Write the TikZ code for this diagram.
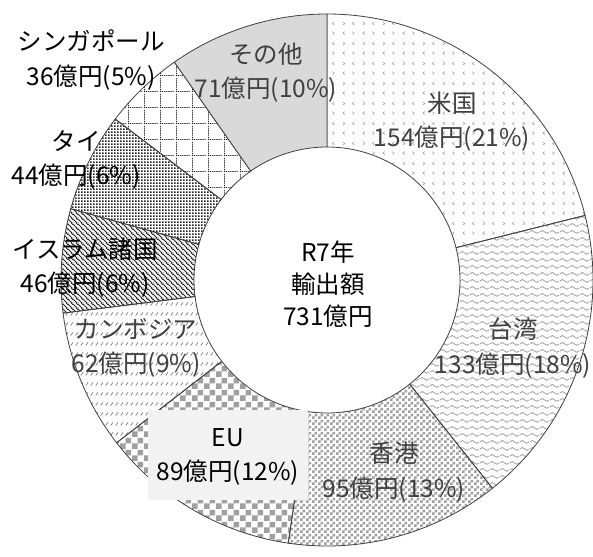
\documentclass[tikz,border=0pt]{standalone}
\usepackage{fontspec}
\setmainfont{Noto Sans CJK JP}
\usetikzlibrary{patterns,calc}
\pgfdeclarepatternformonly{chevmarks}{\pgfpointorigin}{\pgfpoint{20pt}{20pt}}{\pgfpoint{20pt}{20pt}}{
  \pgfsetlinewidth{0.6pt}
  \pgfpathmoveto{\pgfpoint{5pt}{1.5pt}}\pgfpathlineto{\pgfpoint{3pt}{3pt}}\pgfpathlineto{\pgfpoint{5pt}{4.5pt}}
  \pgfpathmoveto{\pgfpoint{13pt}{1.5pt}}\pgfpathlineto{\pgfpoint{15pt}{3pt}}\pgfpathlineto{\pgfpoint{13pt}{4.5pt}}
  \pgfpathmoveto{\pgfpoint{3pt}{11.5pt}}\pgfpathlineto{\pgfpoint{5pt}{13pt}}\pgfpathlineto{\pgfpoint{3pt}{14.5pt}}
  \pgfpathmoveto{\pgfpoint{15pt}{11.5pt}}\pgfpathlineto{\pgfpoint{13pt}{13pt}}\pgfpathlineto{\pgfpoint{15pt}{14.5pt}}
  \pgfusepath{stroke}}
\pgfdeclarepatternformonly{wavelines}{\pgfpoint{0pt}{0pt}}{\pgfpoint{10pt}{7pt}}{\pgfpoint{10pt}{7pt}}{
  \pgfsetlinewidth{0.9pt}
  \pgfpathmoveto{\pgfpoint{0pt}{3.5pt}}
  \pgfpathsine{\pgfpoint{2.5pt}{1.6pt}}
  \pgfpathcosine{\pgfpoint{2.5pt}{-1.6pt}}
  \pgfpathsine{\pgfpoint{2.5pt}{-1.6pt}}
  \pgfpathcosine{\pgfpoint{2.5pt}{1.6pt}}
  \pgfusepath{stroke}}
\pgfdeclarepatternformonly{checksmall}{\pgfpointorigin}{\pgfpoint{6pt}{6pt}}{\pgfpoint{6pt}{6pt}}{
  \pgfpathrectangle{\pgfpointorigin}{\pgfpoint{3pt}{3pt}}
  \pgfpathrectangle{\pgfpoint{3pt}{3pt}}{\pgfpoint{3pt}{3pt}}
  \pgfusepath{fill}}
\pgfdeclarepatternformonly{checkbig}{\pgfpointorigin}{\pgfpoint{12pt}{12pt}}{\pgfpoint{12pt}{12pt}}{
  \pgfpathrectangle{\pgfpointorigin}{\pgfpoint{6pt}{6pt}}
  \pgfpathrectangle{\pgfpoint{6pt}{6pt}}{\pgfpoint{6pt}{6pt}}
  \pgfusepath{fill}}
\pgfdeclarepatternformonly{slashdash}{\pgfpointorigin}{\pgfpoint{5pt}{10pt}}{\pgfpoint{5pt}{10pt}}{
  \pgfsetlinewidth{0.7pt}
  \pgfpathmoveto{\pgfpoint{0.8pt}{0.5pt}}\pgfpathlineto{\pgfpoint{3.6pt}{4pt}}
  \pgfusepath{stroke}}
\pgfdeclarepatternformonly{backlines}{\pgfpointorigin}{\pgfpoint{4.5pt}{4.5pt}}{\pgfpoint{4.5pt}{4.5pt}}{
  \pgfsetlinewidth{1.0pt}
  \pgfpathmoveto{\pgfpoint{-1pt}{5.5pt}}\pgfpathlineto{\pgfpoint{5.5pt}{-1pt}}
  \pgfpathmoveto{\pgfpoint{-1pt}{1pt}}\pgfpathlineto{\pgfpoint{1pt}{-1pt}}
  \pgfpathmoveto{\pgfpoint{3.5pt}{5.5pt}}\pgfpathlineto{\pgfpoint{5.5pt}{3.5pt}}
  \pgfusepath{stroke}}
\pgfdeclarepatternformonly{densedots}{\pgfpointorigin}{\pgfpoint{3pt}{3pt}}{\pgfpoint{3pt}{3pt}}{
  \pgfpathrectangle{\pgfpoint{0.3pt}{0.3pt}}{\pgfpoint{1.9pt}{1.9pt}}
  \pgfusepath{fill}}
\pgfdeclarepatternformonly{dotgrid}{\pgfpointorigin}{\pgfpoint{16pt}{16pt}}{\pgfpoint{16pt}{16pt}}{
  \pgfpathrectangle{\pgfpoint{0pt}{0pt}}{\pgfpoint{1pt}{1pt}}
  \pgfpathrectangle{\pgfpoint{2pt}{0pt}}{\pgfpoint{1pt}{1pt}}
  \pgfpathrectangle{\pgfpoint{4pt}{0pt}}{\pgfpoint{1pt}{1pt}}
  \pgfpathrectangle{\pgfpoint{6pt}{0pt}}{\pgfpoint{1pt}{1pt}}
  \pgfpathrectangle{\pgfpoint{8pt}{0pt}}{\pgfpoint{1pt}{1pt}}
  \pgfpathrectangle{\pgfpoint{10pt}{0pt}}{\pgfpoint{1pt}{1pt}}
  \pgfpathrectangle{\pgfpoint{12pt}{0pt}}{\pgfpoint{1pt}{1pt}}
  \pgfpathrectangle{\pgfpoint{14pt}{0pt}}{\pgfpoint{1pt}{1pt}}
  \pgfpathrectangle{\pgfpoint{0pt}{2pt}}{\pgfpoint{1pt}{1pt}}
  \pgfpathrectangle{\pgfpoint{0pt}{4pt}}{\pgfpoint{1pt}{1pt}}
  \pgfpathrectangle{\pgfpoint{0pt}{6pt}}{\pgfpoint{1pt}{1pt}}
  \pgfpathrectangle{\pgfpoint{0pt}{8pt}}{\pgfpoint{1pt}{1pt}}
  \pgfpathrectangle{\pgfpoint{0pt}{10pt}}{\pgfpoint{1pt}{1pt}}
  \pgfpathrectangle{\pgfpoint{0pt}{12pt}}{\pgfpoint{1pt}{1pt}}
  \pgfpathrectangle{\pgfpoint{0pt}{14pt}}{\pgfpoint{1pt}{1pt}}
  \pgfusepath{fill}}
\definecolor{edge}{HTML}{404040}
\definecolor{patgray}{HTML}{A0A0A0}
\definecolor{othergray}{HTML}{D9D9D9}
\definecolor{eubox}{HTML}{F2F2F2}
\definecolor{intext}{HTML}{404040}
\newcommand{\ringslice}[3]{%
  \draw[slice,#3] ($(c)+(#1:266)$) arc[start angle=#1,end angle=#2,radius=266]
    -- ($(c)+(#2:133)$) arc[start angle=#2,end angle=#1,radius=133] -- cycle;}
\begin{document}
\begin{tikzpicture}[x=1pt,y=1pt,
  slice/.style={draw=edge,line width=0.8pt},
  lbl/.style={align=center,inner sep=0pt,font=\fontsize{24.5}{34.5}\selectfont},
  inlbl/.style={lbl,text=intext}]
\useasboundingbox (0,0) rectangle (593,556);
\fill[white] (0,0) rectangle (593,556);
\coordinate (c) at (327,276);
\ringslice{90}{14.055}{pattern=chevmarks,pattern color=patgray}
\ringslice{14.055}{-51.534}{pattern=wavelines,pattern color=patgray}
\ringslice{-51.534}{-98.383}{pattern=checksmall,pattern color=patgray}
\ringslice{-98.383}{-142.273}{pattern=checkbig,pattern color=patgray}
\ringslice{-142.273}{-172.848}{pattern=slashdash,pattern color=black!55}
\ringslice{-172.848}{-195.533}{pattern=backlines,pattern color=black!85}
\ringslice{-195.533}{-217.232}{pattern=densedots,pattern color=black!85}
\ringslice{-217.232}{-234.985}{pattern=dotgrid,pattern color=black}
\ringslice{-234.985}{-270}{fill=othergray}
% labels
\node[inlbl] (us) at (452,434.5) {米国\\154億円(21\%)};
\node[inlbl] (tw) at (513,208) {台湾\\133億円(18\%)};
\node[inlbl] (hk) at (394,84) {香港\\95億円(13\%)};
\node[fill=eubox,minimum width=160,minimum height=90,inner sep=0pt] (eub) at (228,101) {};
\node[lbl] (eu) at (228,99) {EU\\89億円(12\%)};
\node[inlbl] (kh) at (136,208) {カンボジア\\62億円(9\%)};
\node[lbl] (is) at (85,288.5) {イスラム諸国\\46億円(6\%)};
\node[lbl] (th) at (76,396) {タイ\\44億円(6\%)};
\node[lbl] (sg) at (91,496) {シンガポール\\36億円(5\%)};
\node[inlbl] (ot) at (266,483.5) {その他\\71億円(10\%)};
\node[lbl,font=\fontsize{24.5}{32}\selectfont] (ctr) at (328,272) {R7年\\輸出額\\731億円};
\end{tikzpicture}
\end{document}
